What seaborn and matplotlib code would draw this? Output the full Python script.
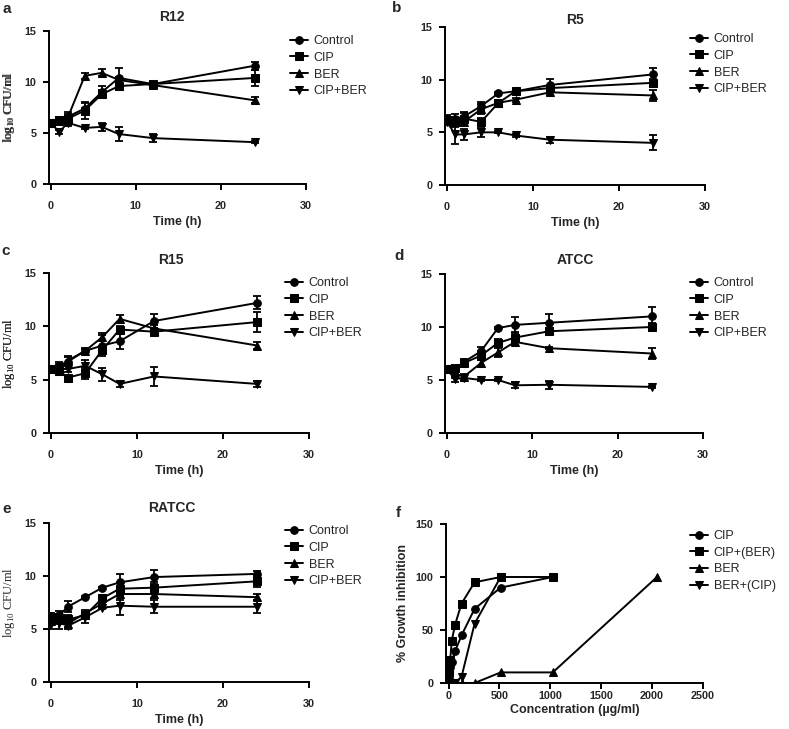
import numpy as np
import pandas as pd
import matplotlib
matplotlib.use("Agg")
import matplotlib.pyplot as plt
import seaborn as sns

sns.set_style("ticks")
plt.rcParams['font.family'] = ['Liberation Sans', 'DejaVu Sans']
plt.rcParams['mathtext.fontset'] = 'custom'
plt.rcParams['mathtext.rm'] = 'Liberation Serif'

# ---------------- data ----------------
time_h = [0, 1, 2, 4, 6, 8, 12, 24]
series_names = ["Control", "CIP", "BER", "CIP+BER"]

# a: R12
r12_control = [6.0, 6.3, 6.6, 7.4, 9.0, 10.4, 9.8, 11.6]
r12_cip = [6.0, 6.3, 6.4, 7.2, 8.8, 9.6, 9.8, 10.4]
r12_ber = [6.0, 6.2, 6.5, 10.6, 10.9, 10.2, 9.7, 8.2]
r12_cipber = [6.0, 5.1, 6.0, 5.5, 5.6, 4.9, 4.5, 4.1]
r12_control_err = [0.1, 0.2, 0.3, 0.5, 0.6, 1.0, 0.2, 0.4]
r12_cip_err = [0.1, 0.3, 0.4, 0.8, 0.4, 0.4, 0.2, 0.8]
r12_ber_err = [0.1, 0.2, 0.6, 0.3, 0.35, 0.3, 0.2, 0.3]
r12_cipber_err = [0.1, 0.2, 0.3, 0.1, 0.4, 0.7, 0.4, 0.1]

# b: R5
r5_control = [6.3, 6.3, 6.5, 7.5, 8.7, 8.9, 9.5, 10.5]
r5_cip = [6.2, 6.0, 6.3, 6.0, 7.8, 8.9, 9.2, 9.7]
r5_ber = [6.1, 6.0, 6.0, 7.2, 7.8, 8.1, 8.8, 8.5]
r5_cipber = [6.0, 4.8, 4.8, 5.0, 5.0, 4.7, 4.3, 4.0]
r5_control_err = [0.3, 0.4, 0.4, 0.4, 0.1, 0.2, 0.6, 0.6]
r5_cip_err = [0.3, 0.4, 0.5, 0.4, 0.3, 0.2, 0.3, 0.4]
r5_ber_err = [0.3, 0.5, 0.4, 0.5, 0.2, 0.2, 0.3, 0.5]
r5_cipber_err = [0.2, 0.9, 0.5, 0.4, 0.1, 0.1, 0.3, 0.7]

# c: R15
r15_control = [6.0, 6.3, 6.7, 7.7, 8.2, 8.6, 10.5, 12.2]
r15_cip = [6.0, 5.8, 5.2, 5.6, 7.8, 9.7, 9.5, 10.4]
r15_ber = [6.0, 6.2, 6.8, 7.7, 9.0, 10.7, 9.8, 8.2]
r15_cipber = [6.0, 6.0, 6.0, 6.3, 5.5, 4.6, 5.3, 4.6]
r15_control_err = [0.2, 0.4, 0.4, 0.3, 1.0, 0.7, 0.7, 0.6]
r15_cip_err = [0.2, 0.3, 0.2, 0.5, 0.4, 0.3, 0.3, 0.9]
r15_ber_err = [0.2, 0.3, 0.4, 0.2, 0.4, 0.4, 0.3, 0.3]
r15_cipber_err = [0.2, 0.3, 0.3, 0.5, 0.6, 0.3, 0.9, 0.3]

# d: ATCC
atcc_control = [6.0, 5.9, 6.7, 7.7, 9.9, 10.2, 10.4, 11.0]
atcc_cip = [6.0, 6.1, 6.6, 7.3, 8.5, 9.0, 9.6, 10.0]
atcc_ber = [6.0, 5.6, 5.3, 6.6, 7.6, 8.6, 8.0, 7.5]
atcc_cipber = [6.0, 5.1, 5.2, 5.0, 5.0, 4.5, 4.55, 4.35]
atcc_control_err = [0.1, 0.3, 0.3, 0.4, 0.1, 0.7, 0.8, 0.9]
atcc_cip_err = [0.1, 0.3, 0.3, 0.4, 0.4, 0.4, 0.3, 0.4]
atcc_ber_err = [0.1, 0.3, 0.3, 0.4, 0.4, 0.3, 0.1, 0.5]
atcc_cipber_err = [0.1, 0.3, 0.3, 0.1, 0.1, 0.3, 0.4, 0.1]

# e: RATCC
ratcc_control = [6.2, 6.3, 7.1, 8.0, 8.9, 9.4, 9.9, 10.2]
ratcc_cip = [6.0, 6.0, 5.9, 6.3, 7.9, 8.8, 8.9, 9.5]
ratcc_ber = [5.8, 5.9, 5.5, 6.5, 7.4, 8.3, 8.3, 8.0]
ratcc_cipber = [5.5, 5.6, 5.3, 6.1, 7.0, 7.2, 7.1, 7.1]
ratcc_control_err = [0.3, 0.4, 0.5, 0.1, 0.1, 0.8, 0.7, 0.3]
ratcc_cip_err = [0.3, 0.4, 0.4, 0.3, 0.1, 0.5, 0.5, 0.5]
ratcc_ber_err = [0.3, 0.4, 0.3, 0.3, 0.1, 0.6, 0.4, 0.3]
ratcc_cipber_err = [0.5, 0.6, 0.3, 0.5, 0.1, 0.9, 0.6, 0.6]

# f: growth inhibition
cip_conc = [2, 4, 8, 16, 32, 64, 128, 256, 512, 1024]
cip_inhib = [0, 5, 10, 15, 20, 30, 45, 70, 90, 100]
cipber_conc = [1, 2, 4, 8, 16, 32, 64, 128, 256, 512, 1024]
cipber_inhib = [10, 12, 15, 18, 22, 40, 55, 75, 95, 100, 100]
ber_conc = [16, 32, 64, 128, 256, 512, 1024, 2048]
ber_inhib = [0, 0, 0, 0, 0, 10, 10, 100]
bercip_conc = [8, 16, 32, 64, 128, 256, 512]
bercip_inhib = [0, 0, 0, 0, 6, 56, 100]

panel_titles = ["R12", "R5", "R15", "ATCC", "RATCC"]
panel_letters = ["a", "b", "c", "d", "e", "f"]
f_names = ["CIP", "CIP+(BER)", "BER", "BER+(CIP)"]
markers = ['o', 's', '^', 'v']

time_panels = [
    ([r12_control, r12_cip, r12_ber, r12_cipber],
     [r12_control_err, r12_cip_err, r12_ber_err, r12_cipber_err]),
    ([r5_control, r5_cip, r5_ber, r5_cipber],
     [r5_control_err, r5_cip_err, r5_ber_err, r5_cipber_err]),
    ([r15_control, r15_cip, r15_ber, r15_cipber],
     [r15_control_err, r15_cip_err, r15_ber_err, r15_cipber_err]),
    ([atcc_control, atcc_cip, atcc_ber, atcc_cipber],
     [atcc_control_err, atcc_cip_err, atcc_ber_err, atcc_cipber_err]),
    ([ratcc_control, ratcc_cip, ratcc_ber, ratcc_cipber],
     [ratcc_control_err, ratcc_cip_err, ratcc_ber_err, ratcc_cipber_err]),
]

# ---------------- layout (pixel boxes: left, top, right, bottom) ----------------
W, H = 789, 729
fig = plt.figure(figsize=(W / 100, H / 100), dpi=100)

boxes = [(49, 31, 306, 184), (445, 27, 705, 185),
         (49, 273, 309, 433), (445, 274, 703, 433),
         (49, 523, 309, 682), (446, 524, 703, 683)]
title_pos = [(172, 17), (575, 20), (171, 260), (575, 260), (172, 508)]
letter_pos = [(7, 9), (397, 8), (6, 251), (399, 256), (7, 509), (398, 513)]
legend_pos = [(290, 35), (690, 33), (285, 277), (690, 277), (285, 525), (690, 530)]


def rect(b):
    l, t, r, bt = b
    return [l / W, 1 - bt / H, (r - l) / W, (bt - t) / H]


def style_axes(ax, xpad):
    sns.despine(ax=ax)
    for s in ["left", "bottom"]:
        ax.spines[s].set_linewidth(1.4)
        ax.spines[s].set_color("black")
    ax.tick_params(axis="both", width=1.4, length=4, color="black",
                   labelsize=7.8, direction="out")
    ax.tick_params(axis="x", pad=xpad)
    ax.tick_params(axis="y", pad=5)
    plt.setp(ax.get_xticklabels() + ax.get_yticklabels(), fontweight="bold")


def add_legend(ax, pos):
    ax.legend(loc="upper left", bbox_to_anchor=(pos[0] / W, 1 - pos[1] / H),
              bbox_transform=fig.transFigure, frameon=False, fontsize=9,
              handlelength=1.45, handletextpad=0.45, labelspacing=0.38,
              borderpad=0, borderaxespad=0)


for i, (vals, errs) in enumerate(time_panels):
    ax = fig.add_axes(rect(boxes[i]))
    for name, m, v, e in zip(series_names, markers, vals, errs):
        ax.errorbar(time_h, v, yerr=e, fmt="none", ecolor="black",
                    elinewidth=1.3, capsize=3.2, capthick=1.3, zorder=2)
        sns.lineplot(x=time_h, y=v, marker=m, color="black", linewidth=1.4,
                     markersize=5.5, markeredgecolor="black", label=name,
                     ax=ax, zorder=3)
    ax.set_xlim(-0.2, 30)
    ax.set_ylim(0, 15)
    ax.set_xticks([0, 10, 20, 30])
    ax.set_yticks([0, 5, 10, 15])
    style_axes(ax, 8)
    ax.set_xlabel("Time (h)", fontsize=9, fontweight="bold")
    l, t, r, b = boxes[i]
    ax.xaxis.set_label_coords(0.5, -(32) / (b - t))
    ax.set_ylabel(r"log$_\mathregular{10}$ CFU/ml", fontsize=9,
                  family="Liberation Serif")
    ax.yaxis.set_label_coords(-(l - 17) / (r - l), 0.5)
    add_legend(ax, legend_pos[i])
    fig.text(title_pos[i][0] / W, 1 - title_pos[i][1] / H, panel_titles[i],
             ha="center", va="center", fontsize=10, fontweight="bold")

# panel f
ax = fig.add_axes(rect(boxes[5]))
f_data = [(cip_conc, cip_inhib), (cipber_conc, cipber_inhib),
          (ber_conc, ber_inhib), (bercip_conc, bercip_inhib)]
for name, m, (xc, yv) in zip(f_names, markers, f_data):
    sns.lineplot(x=xc, y=yv, marker=m, color="black", linewidth=1.4,
                 markersize=5.5, markeredgecolor="black", label=name, ax=ax)
ax.set_xlim(-25, 2500)
ax.set_ylim(0, 150)
ax.set_xticks([0, 500, 1000, 1500, 2000, 2500])
ax.set_yticks([0, 50, 100, 150])
style_axes(ax, 2)
ax.set_xlabel("Concentration (µg/ml)", fontsize=9, fontweight="bold")
ax.xaxis.set_label_coords(0.5, -21 / 159)
ax.set_ylabel("% Growth inhibition", fontsize=9, fontweight="bold")
ax.yaxis.set_label_coords(-(446 - 409) / 257, 0.5)
add_legend(ax, legend_pos[5])

for (x, y), letter in zip(letter_pos, panel_letters):
    fig.text(x / W, 1 - y / H, letter, ha="center", va="center",
             fontsize=11, fontweight="bold")

fig.savefig("out.png", dpi=100)
